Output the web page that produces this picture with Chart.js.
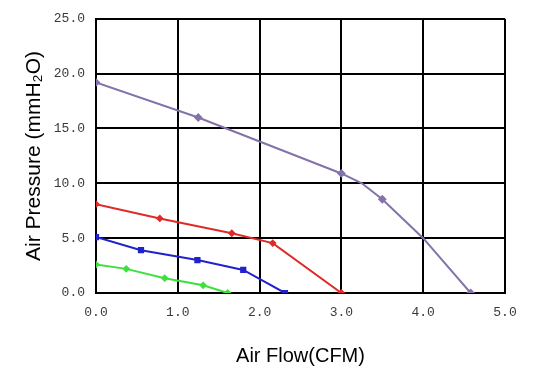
<!DOCTYPE html>
<html lang="en">
<head>
    <meta charset="UTF-8">
    <title>Air Flow vs Air Pressure</title>
    <script src="https://cdn.jsdelivr.net/npm/chart.js@4/dist/chart.umd.min.js"></script>
    <style>
        body { margin: 0; background: #fff; }
        #wrap { width: 538px; height: 375px; }
    </style>
</head>
<body>
    <div id="wrap"><canvas id="pqChart"></canvas></div>

    <script>
        // Fan curves (CFM vs mmH2O)
        var purpleFlow = [0, 1.25, 3.0, 3.25, 3.5, 4.0, 4.58];
        var purplePress = [19.2, 16.0, 10.9, 10.0, 8.55, 5.0, 0];
        var purpleMarks = [3, 3, 3, 0, 3, 0, 3];      // only some points carry a marker

        var redFlow = [0, 0.78, 1.66, 2.16, 3.0];
        var redPress = [8.1, 6.8, 5.45, 4.55, 0];

        var blueFlow = [0, 0.55, 1.24, 1.8, 2.31];
        var bluePress = [5.1, 3.9, 3.0, 2.1, 0];

        var greenFlow = [0, 0.37, 0.84, 1.31, 1.61];
        var greenPress = [2.6, 2.2, 1.35, 0.7, 0];

        var xTicks = [0, 1, 2, 3, 4, 5];
        var yTicks = [0, 5, 10, 15, 20, 25];

        // Pair up x and y arrays into {x, y} points
        function toPoints(xs, ys) {
            return xs.map(function(x, i) { return {x: x, y: ys[i]}; });
        }

        function curve(xs, ys, colour, style, radius) {
            return {
                data: toPoints(xs, ys),
                showLine: true,
                borderColor: colour,
                backgroundColor: colour,
                borderWidth: 2,
                pointStyle: style,
                pointRadius: radius,
                pointHoverRadius: radius,
                tension: 0
            };
        }

        var tickFont = {family: '"Liberation Mono", monospace', size: 13};
        var gridStyle = {color: '#000', lineWidth: 2, drawTicks: false};

        new Chart(document.getElementById('pqChart'), {
            type: 'scatter',
            data: {
                datasets: [
                    curve(purpleFlow, purplePress, '#8472aa', 'rectRot', purpleMarks),
                    curve(redFlow, redPress, '#e02a2a', 'rectRot', 2.5),
                    curve(blueFlow, bluePress, '#2222cc', 'rect', 3),
                    curve(greenFlow, greenPress, '#3ee03e', 'rectRot', 2.5)
                ]
            },
            options: {
                responsive: true,
                maintainAspectRatio: false,
                animation: false,
                layout: { padding: {top: 13, right: 33, left: 0, bottom: 0} },
                plugins: { legend: { display: false }, tooltip: { enabled: false } },
                scales: {
                    x: {
                        type: 'linear',
                        min: xTicks[0],
                        max: xTicks[xTicks.length - 1],
                        afterBuildTicks: function(scale) {
                            scale.ticks = xTicks.map(function(v) { return {value: v}; });
                        },
                        afterFit: function(scale) { scale.height = 82; },
                        ticks: {
                            padding: 12,
                            color: '#3a3a3a',
                            font: tickFont,
                            callback: function(v) { return Number(v).toFixed(1); }
                        },
                        grid: gridStyle,
                        border: { color: '#000', width: 2 },
                        title: {
                            display: true,
                            text: 'Air Flow(CFM)',
                            color: '#000',
                            font: {family: '"Liberation Sans", Arial, sans-serif', size: 20},
                            padding: {top: 0, bottom: 7}
                        }
                    },
                    y: {
                        type: 'linear',
                        min: yTicks[0],
                        max: yTicks[yTicks.length - 1],
                        afterBuildTicks: function(scale) {
                            scale.ticks = yTicks.map(function(v) { return {value: v}; });
                        },
                        afterFit: function(scale) { scale.width = 96; },
                        ticks: {
                            padding: 11,
                            color: '#3a3a3a',
                            font: tickFont,
                            callback: function(v) { return Number(v).toFixed(1); }
                        },
                        grid: gridStyle,
                        border: { color: '#000', width: 2 },
                        title: {
                            display: true,
                            text: 'Air Pressure (mmH₂O)',
                            color: '#000',
                            font: {family: '"Liberation Sans", Arial, sans-serif', size: 21},
                            padding: {top: 22, bottom: 0}
                        }
                    }
                }
            }
        });
    </script>
</body>
</html>
